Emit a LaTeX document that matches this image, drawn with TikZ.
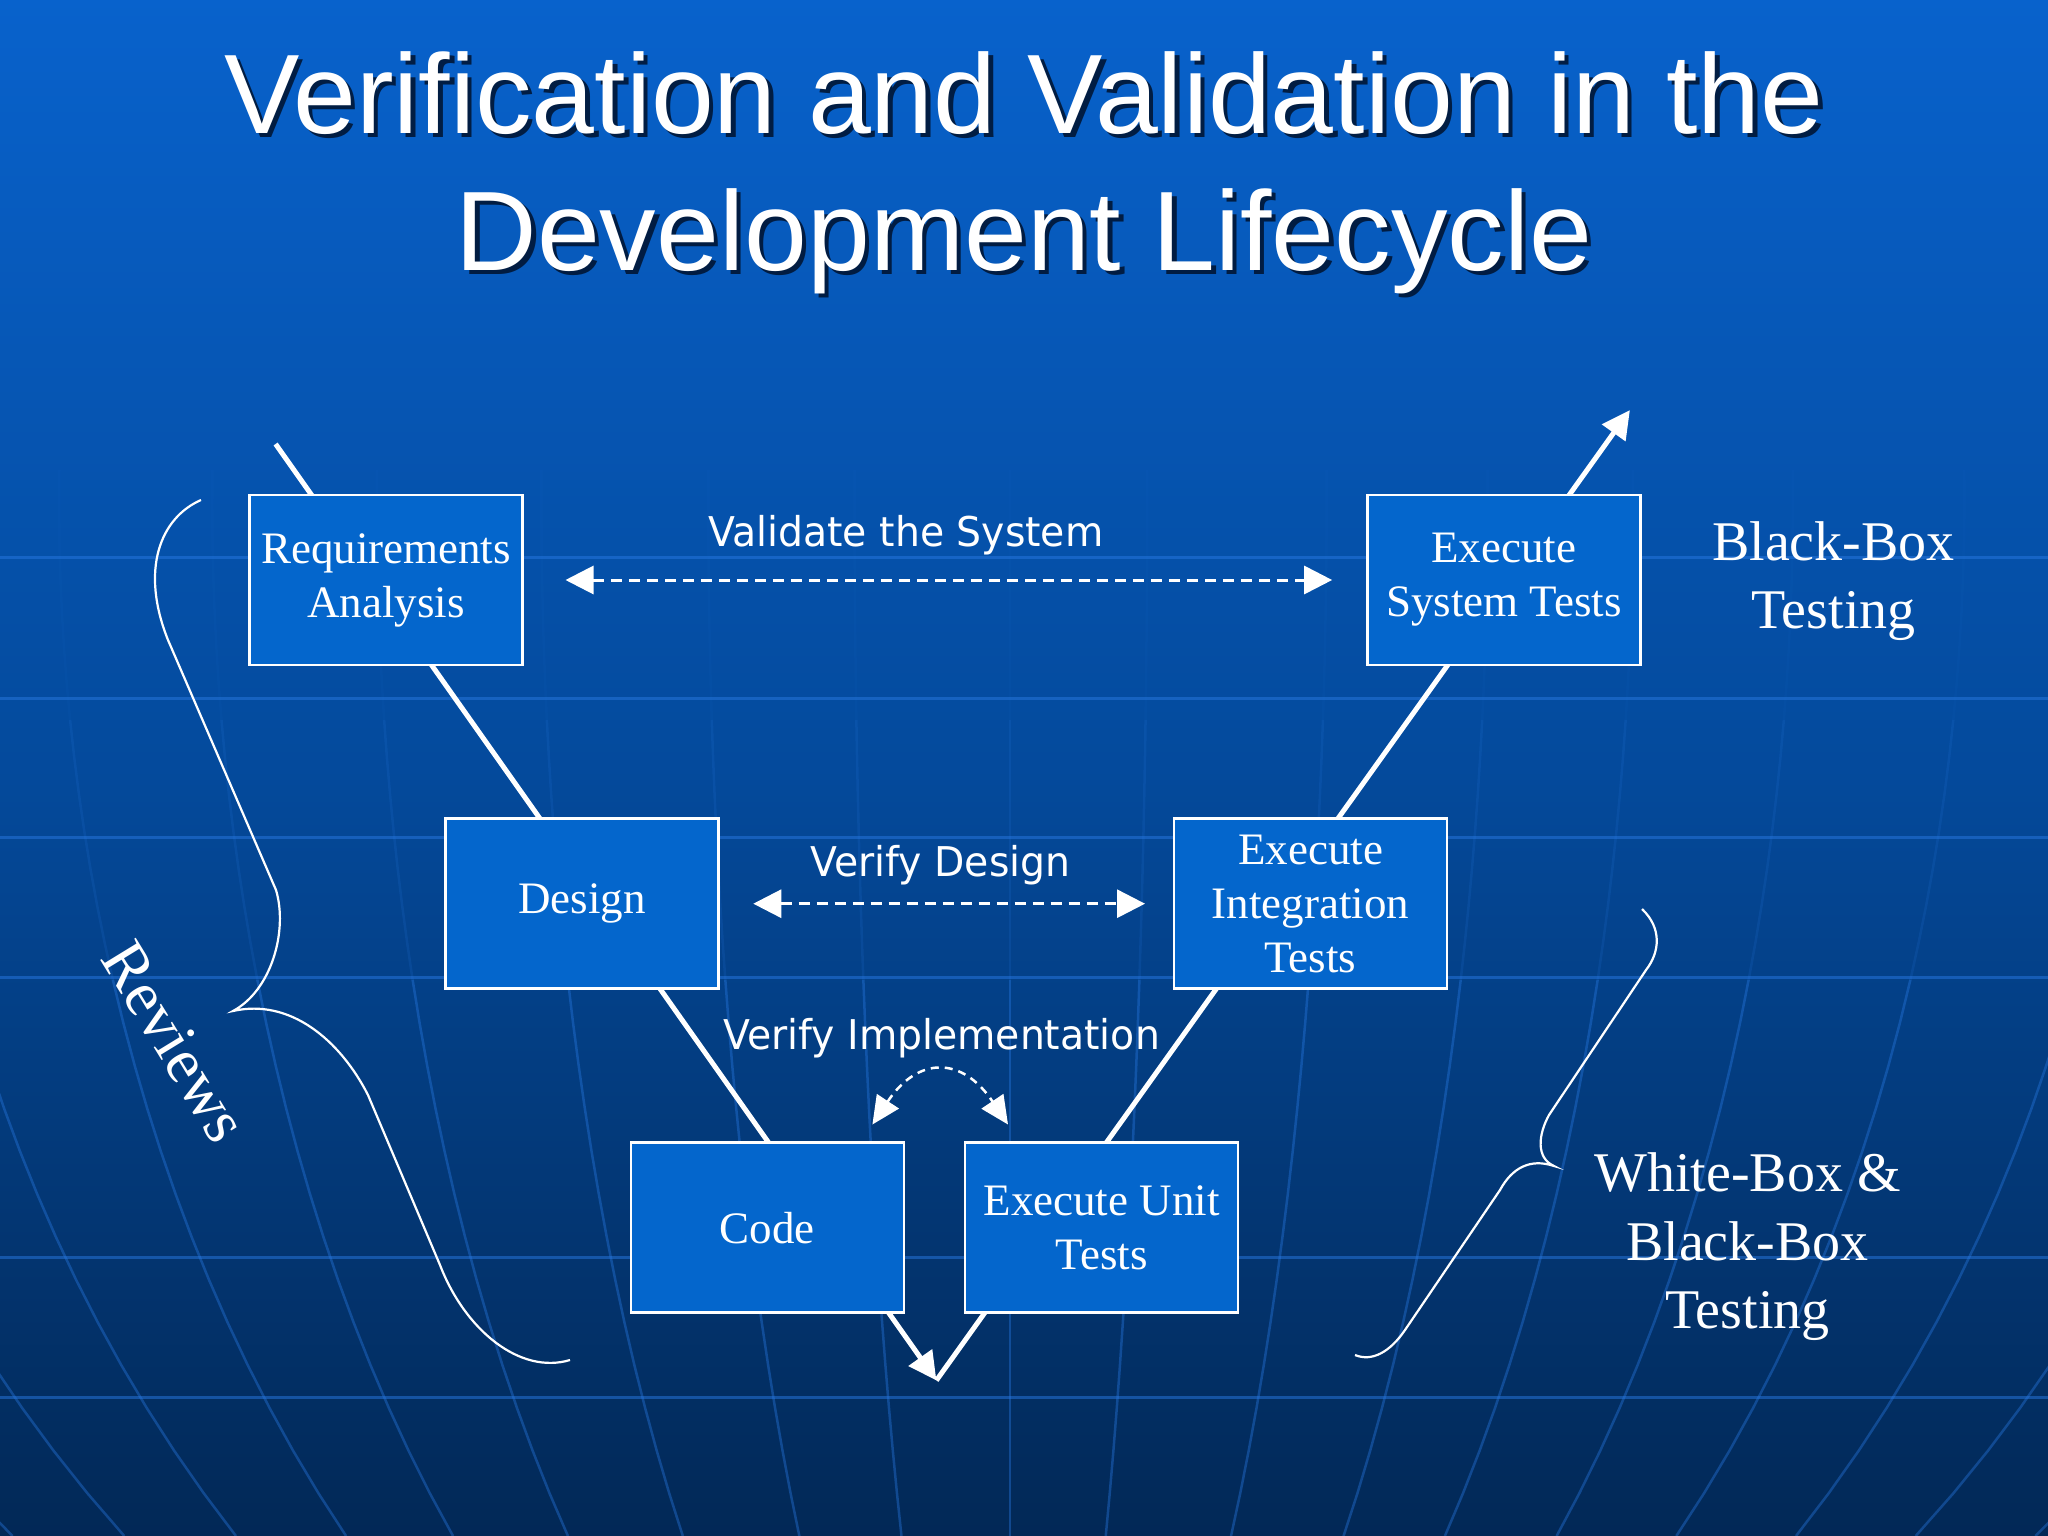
\documentclass[tikz,border=0pt]{standalone}
\usepackage{fontspec}
\setmainfont{Liberation Serif}
\newfontfamily\titlefont[Ligatures=NoCommon]{Liberation Sans}
\newfontfamily\labelfont[FakeStretch=0.96]{DejaVu Sans}
\usetikzlibrary{arrows.meta}
\definecolor{bgtop}{RGB}{8,98,204}
\definecolor{bgmid}{RGB}{4,74,156}
\definecolor{bgbot}{RGB}{2,40,86}
\definecolor{boxfill}{RGB}{4,102,204}
\definecolor{gridline}{RGB}{40,120,225}
\definecolor{shadowcol}{RGB}{0,18,45}
\newcommand\vvtitlefont{\titlefont\fontsize{113}{135}\selectfont}
\newcommand\vvboxfont{\fontsize{45}{54}\selectfont}
\newcommand\vvflowfont{\labelfont\fontsize{41}{49}\selectfont}
\newcommand\vvsidefont{\fontsize{56}{68}\selectfont}
\newcommand\vvrevfont{\fontsize{64}{72}\selectfont}
\begin{document}
\begin{tikzpicture}[x=1pt,y=-1pt,
  stage/.style={draw=white, line width=2.5pt, fill=boxfill, minimum width=273pt,
    minimum height=170pt, inner sep=0pt, align=center, text=white, font=\vvboxfont},
  vline/.style={white, line width=5pt, -{Triangle[length=28pt,width=28pt]}},
  dasharrow/.style={white, line width=3pt, dash pattern=on 11pt off 7pt,
    {Triangle[length=28pt,width=28pt]}-{Triangle[length=28pt,width=28pt]}},
  bracecurve/.style={white, line width=2.2pt},
  sidelabel/.style={text=white, font=\vvsidefont, anchor=base, inner sep=0pt},
  flowlabel/.style={text=white, font=\vvflowfont, anchor=base, inner sep=0pt},
  titletext/.style={font=\vvtitlefont, anchor=base, inner sep=0pt},
  gridstroke/.style={gridline, line width=2.5pt},
]
\useasboundingbox (0,0) rectangle (2048,1536);
% background
\shade[top color=bgtop, bottom color=bgbot, middle color=bgmid] (0,0) rectangle (2048,1536);
\begin{scope}
  \clip (0,0) rectangle (2048,1536);
  \foreach \yy in {557,698,837,977,1257,1397}
    \draw[gridline, line width=3pt, opacity=0.5] (0,\yy) -- (2048,\yy);
  \foreach \k in {-1250,-1110,-970,-832,-698,-554,-410,-264,-136,0,120,277,418,545,685,835,985,1135,1285} {
    \pgfmathsetmacro{\kk}{\k/12.66}
    \draw[gridstroke, opacity=0.05] plot[domain=470:720, samples=8, variable=\t]
      ({1010+\kk*sqrt(209.38-((\t-500)/100)^2)}, \t);
    \draw[gridstroke, opacity=0.16] plot[domain=720:980, samples=8, variable=\t]
      ({1010+\kk*sqrt(209.38-((\t-500)/100)^2)}, \t);
    \draw[gridstroke, opacity=0.4] plot[domain=980:1536, samples=14, variable=\t]
      ({1010+\kk*sqrt(209.38-((\t-500)/100)^2)}, \t);
  }
\end{scope}

% title
\node[titletext, text=shadowcol, opacity=0.85] (t1s) at (1028.5,138) {Verification and Validation in the};
\node[titletext, text=shadowcol, opacity=0.85] (t2s) at (1028.5,274.5) {Development Lifecycle};
\node[titletext, text=white] (t1) at (1024,133.5) {Verification and Validation in the};
\node[titletext, text=white] (t2) at (1024,270) {Development Lifecycle};

% V line
\coordinate (vstart) at (275.6,444);
\coordinate (vtip) at (936.4,1380.4);
\coordinate (vend) at (1629.9,410.1);
\draw[vline] (vstart) -- (vtip);
\draw[vline] (vtip) -- (vend);

% boxes
\node[stage] (req) at (386,580) {Requirements\\Analysis};
\node[stage] (sys) at (1503.9,580) {Execute\\System Tests};
\node[stage] (des) at (581.8,903.7) {Design};
\node[stage] (int) at (1310.5,903.7) {Execute\\Integration\\Tests};
\node[stage] (code) at (767.3,1227.7) {Code};
\node[stage] (unit) at (1101.6,1227.7) {Execute Unit\\Tests};

% dashed arrows
\draw[dasharrow, shorten <=41.75pt, shorten >=34pt] (req.east) -- (sys.west);
\draw[dasharrow, shorten <=33.75pt, shorten >=27.75pt] (des.east) -- (int.west);
\coordinate (cl) at (872.4,1124.5);
\coordinate (cr) at (1008,1124.5);
\draw[white, line width=2.5pt, dash pattern=on 8pt off 6pt,
  {Triangle[length=28pt,width=26pt]}-{Triangle[length=28pt,width=26pt]}]
  (cl) .. controls (918,1056) and (962,1056) .. (cr);

% flow labels
\node[flowlabel] (lval) at (906,546) {Validate the System};
\node[flowlabel] (ldes) at (940.5,876.7) {Verify Design};
\node[flowlabel] (limp) at (941.6,1049) {Verify Implementation};

% braces
\draw[bracecurve] (201,500) .. controls (160,518) and (140,570) .. (168,640)
  -- (276,890) .. controls (288,930) and (272,990) .. (233,1011)
  .. controls (290,998) and (340,1040) .. (368,1095)
  -- (440,1265) .. controls (465,1330) and (520,1375) .. (570,1360);
\draw[bracecurve] (1642,909) .. controls (1662,928) and (1660,952) .. (1646,970)
  -- (1549,1115) .. controls (1538,1135) and (1536,1158) .. (1554,1166)
  .. controls (1530,1158) and (1512,1168) .. (1500,1190)
  -- (1405,1330) .. controls (1390,1352) and (1372,1362) .. (1355,1355);

% side labels
\node[text=white, font=\vvrevfont, rotate=-58.5, inner sep=0pt] (rev) at (175,1042) {Reviews};
\node[sidelabel] (bb1) at (1833.5,560) {Black-Box};
\node[sidelabel] (bb2) at (1833.5,628) {Testing};
\node[sidelabel] (wb1) at (1747.5,1191.7) {White-Box \&};
\node[sidelabel] (wb2) at (1747.5,1260) {Black-Box};
\node[sidelabel] (wb3) at (1747.5,1328) {Testing};
\end{tikzpicture}
\end{document}
